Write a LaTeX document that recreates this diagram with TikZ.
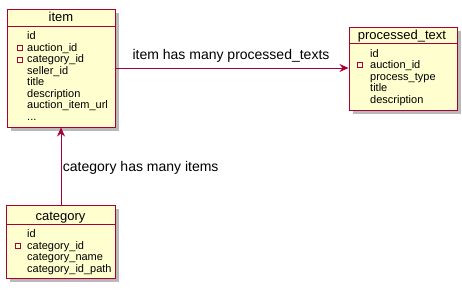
\documentclass[tikz,border=0pt]{standalone}
\usepackage{fontspec}
\setmainfont{Liberation Sans}
\usepackage{tikz}
\usetikzlibrary{positioning, arrows.meta, shadows}

\definecolor{umlfill}{HTML}{FEFECE}
\definecolor{umlline}{HTML}{A80036}

\begin{document}
\begin{tikzpicture}[x=1pt, y=-1pt,
  classbox/.style={draw=umlline, line width=1pt, fill=umlfill, rectangle, inner sep=0pt,
    drop shadow={opacity=0.55, shadow xshift=3.5pt, shadow yshift=-3.5pt}},
  title/.style={anchor=base, inner sep=0pt, font=\fontsize{13}{15}\selectfont},
  attr/.style={anchor=base west, inner sep=0pt, font=\fontsize{11}{13}\selectfont},
  keymark/.style={draw=umlline, line width=0.6pt, fill=umlfill, rectangle, inner sep=0pt, minimum size=5pt},
  rel/.style={draw=umlline, line width=0.8pt, -{Stealth[length=9pt, width=8pt, inset=3pt]}},
  rellabel/.style={inner sep=0pt, font=\fontsize{14}{16}\selectfont}]
  \useasboundingbox (0,0) rectangle (462,289);

  % tables
  \node[classbox, minimum width=108pt, minimum height=118pt] (item) at (61,68) {};
  \node[classbox, minimum width=108pt, minimum height=83pt] (processed) at (403,68.5) {};
  \node[classbox, minimum width=109pt, minimum height=73pt] (category) at (60.5,241.5) {};

  % item
  \node[title] (itemname) at (61,21.5) {item};
  \draw[umlline, line width=1pt] (7,26) -- (115,26);
  \foreach \f [count=\i from 0] in {id, auction\_id, category\_id, seller\_id, title, description, auction\_item\_url}
    \node[attr] (itemf\i) at (27,39.5+11.55*\i) {\f};
  \node[attr] (itemmore) at (27,120.4) {...};
  \node[keymark] (itemk1) at (19.5,48) {};
  \node[keymark] (itemk2) at (19.5,59.5) {};

  % processed_text
  \node[title] (processedname) at (402,39.5) {processed\_text};
  \draw[umlline, line width=1pt] (349,43.5) -- (457,43.5);
  \foreach \f [count=\i from 0] in {id, auction\_id, process\_type, title, description}
    \node[attr] (processedf\i) at (370,57+11.55*\i) {\f};
  \node[keymark] (processedk1) at (360,65) {};

  % category
  \node[title] (categoryname) at (60.5,220) {category};
  \draw[umlline, line width=1pt] (6,224) -- (115,224);
  \foreach \f [count=\i from 0] in {id, category\_id, category\_name, category\_id\_path}
    \node[attr] (categoryf\i) at (27,237.5+11.55*\i) {\f};
  \node[keymark] (categoryk1) at (17.5,246) {};

  % relations
  \draw[rel] (item.east) -- node[rellabel, above=5pt, xshift=-1pt] (hasmany) {item has many processed\_texts} (item.east -| processed.west);
  \draw[rel] (category.north -| item.south) -- node[rellabel, right=1.5pt, pos=0.48] (belongs) {category has many items} (item.south);
\end{tikzpicture}
\end{document}
